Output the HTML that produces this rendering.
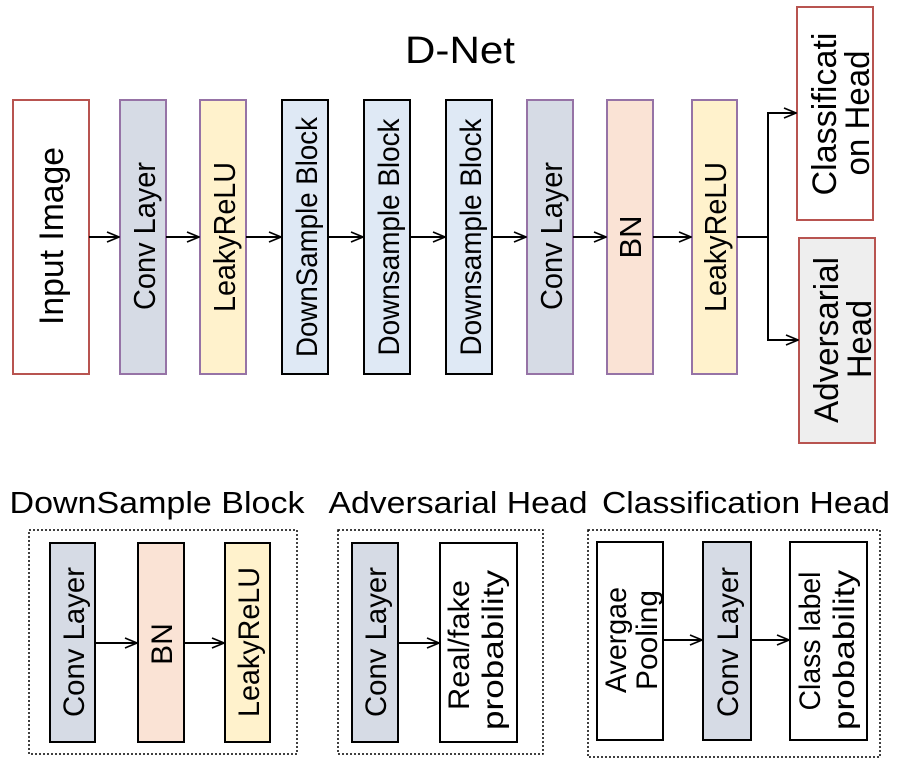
<!DOCTYPE html>
<html><head><style>
html,body{margin:0;padding:0;background:#fff;}
svg text{font-family:"Liberation Sans",Arial,sans-serif;fill:#000;}
</style></head><body>
<svg width="900" height="766" viewBox="0 0 900 766" xmlns="http://www.w3.org/2000/svg">
<defs>
<marker id="a" markerWidth="14" markerHeight="12" refX="13" refY="6" orient="auto" markerUnits="userSpaceOnUse">
<path d="M1,1 L13,6 L1,11" fill="none" stroke="#000" stroke-width="1.6"/>
</marker>
</defs>
<text x="460" y="63" font-size="38" text-anchor="middle" textLength="110" lengthAdjust="spacingAndGlyphs">D-Net</text>
<g stroke-width="2">
<rect x="13" y="100" width="76" height="274" fill="#fff" stroke="#b85450"/>
<rect x="120" y="100" width="46" height="274" fill="#d6dbe5" stroke="#9673a6"/>
<rect x="200" y="100" width="46" height="274" fill="#fff2cc" stroke="#9673a6"/>
<rect x="282" y="100" width="46" height="274" fill="#dfe9f5" stroke="#000"/>
<rect x="364" y="100" width="46" height="274" fill="#dfe9f5" stroke="#000"/>
<rect x="446" y="100" width="46" height="274" fill="#dfe9f5" stroke="#000"/>
<rect x="527" y="100" width="46" height="274" fill="#d6dbe5" stroke="#9673a6"/>
<rect x="607" y="100" width="46" height="274" fill="#fae3d5" stroke="#9673a6"/>
<rect x="692" y="100" width="45" height="274" fill="#fff2cc" stroke="#9673a6"/>
<rect x="797" y="7" width="76" height="213" fill="#fff" stroke="#b85450"/>
<rect x="799" y="238" width="76" height="205" fill="#eeeeee" stroke="#b85450"/>
</g>
<g stroke="#000" stroke-width="2" fill="none" marker-end="url(#a)">
<line x1="89" y1="237" x2="119" y2="237"/>
<line x1="166" y1="237" x2="199" y2="237"/>
<line x1="246" y1="237" x2="281" y2="237"/>
<line x1="328" y1="237" x2="363" y2="237"/>
<line x1="410" y1="237" x2="445" y2="237"/>
<line x1="492" y1="237" x2="526" y2="237"/>
<line x1="573" y1="237" x2="606" y2="237"/>
<line x1="653" y1="237" x2="691" y2="237"/>
<polyline points="737,237 768,237 768,113 796,113"/>
<polyline points="768,237 768,340 798,340"/>
</g>
<g font-size="31" text-anchor="middle">
<text transform="translate(63,236) rotate(-90)" font-size="34" textLength="178" lengthAdjust="spacingAndGlyphs">Input Image</text>
<text transform="translate(155,236) rotate(-90)" textLength="148" lengthAdjust="spacingAndGlyphs">Conv Layer</text>
<text transform="translate(235,237) rotate(-90)" textLength="150" lengthAdjust="spacingAndGlyphs">LeakyReLU</text>
<text transform="translate(317,237) rotate(-90)" font-size="30" textLength="240" lengthAdjust="spacingAndGlyphs">DownSample Block</text>
<text transform="translate(399,237) rotate(-90)" font-size="30" textLength="237" lengthAdjust="spacingAndGlyphs">Downsample Block</text>
<text transform="translate(481,237) rotate(-90)" font-size="30" textLength="237" lengthAdjust="spacingAndGlyphs">Downsample Block</text>
<text transform="translate(562,236) rotate(-90)" textLength="148" lengthAdjust="spacingAndGlyphs">Conv Layer</text>
<text transform="translate(641,237) rotate(-90)" font-size="31">BN</text>
<text transform="translate(726,237) rotate(-90)" textLength="150" lengthAdjust="spacingAndGlyphs">LeakyReLU</text>
<text transform="translate(836,114) rotate(-90)" font-size="34" textLength="163" lengthAdjust="spacingAndGlyphs">Classificati</text>
<text transform="translate(869,113) rotate(-90)" font-size="34" textLength="125" lengthAdjust="spacingAndGlyphs">on Head</text>
<text transform="translate(838,340) rotate(-90)" font-size="34" textLength="166" lengthAdjust="spacingAndGlyphs">Adversarial</text>
<text transform="translate(871,339) rotate(-90)" font-size="34" textLength="78" lengthAdjust="spacingAndGlyphs">Head</text>
</g>
<g font-size="31" text-anchor="middle">
<text x="157" y="513" textLength="295" lengthAdjust="spacingAndGlyphs">DownSample Block</text>
<text x="458" y="513" textLength="259" lengthAdjust="spacingAndGlyphs">Adversarial Head</text>
<text x="746" y="513" textLength="288" lengthAdjust="spacingAndGlyphs">Classification Head</text>
</g>
<g fill="none" stroke="#000" stroke-width="1.5" stroke-dasharray="2,2">
<rect x="29" y="530" width="268" height="224"/>
<rect x="338" y="530" width="205" height="224"/>
<rect x="588" y="530" width="292" height="227"/>
</g>
<g stroke="#000" stroke-width="2">
<rect x="50" y="543" width="45" height="199" fill="#d6dbe5"/>
<rect x="138" y="543" width="46" height="199" fill="#fae3d5"/>
<rect x="225" y="543" width="45" height="199" fill="#fff2cc"/>
<rect x="352" y="543" width="46" height="199" fill="#d6dbe5"/>
<rect x="440" y="543" width="77" height="199" fill="#fff"/>
<rect x="597" y="542" width="66" height="198" fill="#fff"/>
<rect x="703" y="542" width="48" height="198" fill="#d6dbe5"/>
<rect x="790" y="542" width="77" height="198" fill="#fff"/>
</g>
<g stroke="#000" stroke-width="2" fill="none" marker-end="url(#a)">
<line x1="95" y1="643" x2="137" y2="643"/>
<line x1="184" y1="643" x2="224" y2="643"/>
<line x1="398" y1="643" x2="439" y2="643"/>
<line x1="663" y1="640" x2="702" y2="640"/>
<line x1="751" y1="640" x2="789" y2="640"/>
</g>
<g font-size="30" text-anchor="middle">
<text transform="translate(84,642) rotate(-90)" textLength="150" lengthAdjust="spacingAndGlyphs">Conv Layer</text>
<text transform="translate(172,644) rotate(-90)" font-size="30">BN</text>
<text transform="translate(259,642) rotate(-90)" textLength="150" lengthAdjust="spacingAndGlyphs">LeakyReLU</text>
<text transform="translate(386,642) rotate(-90)" textLength="150" lengthAdjust="spacingAndGlyphs">Conv Layer</text>
<text transform="translate(469,645) rotate(-90)" textLength="130" lengthAdjust="spacingAndGlyphs">Real/fake</text>
<text transform="translate(503,650) rotate(-90)" textLength="160" lengthAdjust="spacingAndGlyphs">probability</text>
<text transform="translate(626,640) rotate(-90)" textLength="106" lengthAdjust="spacingAndGlyphs">Avergae</text>
<text transform="translate(657,640) rotate(-90)" textLength="100" lengthAdjust="spacingAndGlyphs">Pooling</text>
<text transform="translate(738,642) rotate(-90)" textLength="150" lengthAdjust="spacingAndGlyphs">Conv Layer</text>
<text transform="translate(820,641) rotate(-90)" textLength="139" lengthAdjust="spacingAndGlyphs">Class label</text>
<text transform="translate(854,650) rotate(-90)" textLength="160" lengthAdjust="spacingAndGlyphs">probability</text>
</g>
</svg>
</body></html>
